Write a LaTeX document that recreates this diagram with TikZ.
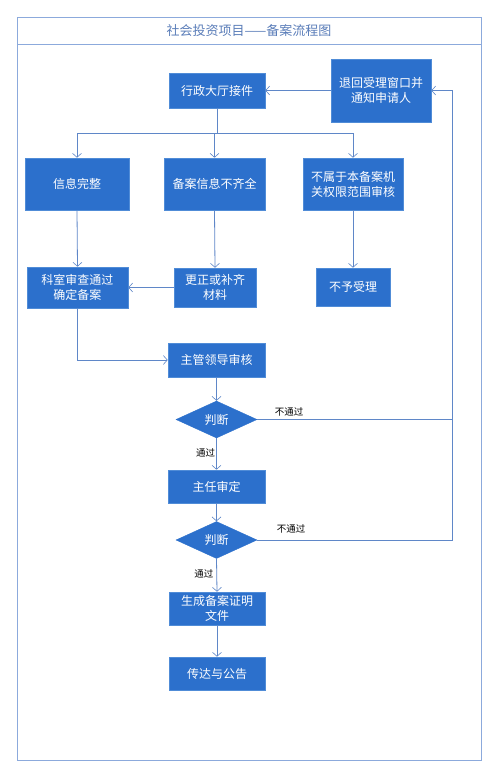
\documentclass[tikz,border=0pt]{standalone}
\usepackage{fontspec}
\setmainfont{Noto Sans CJK SC}
\usetikzlibrary{shapes.geometric,arrows.meta}
\definecolor{boxblue}{RGB}{44,112,204}
\definecolor{boxedge}{RGB}{80,140,215}
\definecolor{linkblue}{RGB}{95,135,200}
\definecolor{framecol}{RGB}{140,170,220}
\definecolor{titlecol}{RGB}{90,125,185}
\begin{document}
\begin{tikzpicture}[x=1pt,y=-1pt,
  box/.style={rectangle,fill=boxblue,draw=boxedge,line width=0.6pt,text=white,inner sep=0pt,align=center,font=\fontsize{12}{15}\selectfont},
  judge/.style={diamond,fill=boxblue,draw=boxblue,text=white,inner sep=0pt,minimum width=81pt,minimum height=37pt,font=\fontsize{12}{15}\selectfont},
  link/.style={draw=linkblue,line width=0.8pt},
  arr/.style={link,-{Straight Barb[length=4pt,width=9pt,line width=0.6pt]}},
  lbl/.style={font=\fontsize{9.5}{11}\selectfont,text=black,inner sep=0pt},
  frame/.style={draw=framecol,line width=0.8pt}]
\useasboundingbox (0,0) rectangle (497,777);
\fill[white] (0,0) rectangle (497,777);
\draw[frame] (17,17) rectangle (481,760);
\draw[frame] (17,44) -- (481,44);
\node[text=titlecol,font=\fontsize{13}{15}\selectfont] (title) at (249,31) {社会投资项目——备案流程图};

\node[box,minimum width=96pt,minimum height=35pt] (xz) at (217,90.5) {行政大厅接件};
\node[box,minimum width=100pt,minimum height=63pt] (th) at (381,90.5) {退回受理窗口并\\通知申请人};
\node[box,minimum width=104pt,minimum height=52pt] (wz) at (77,184) {信息完整};
\node[box,minimum width=101pt,minimum height=52pt] (bq) at (214.5,184) {备案信息不齐全};
\node[box,minimum width=100pt,minimum height=52pt] (bs) at (353,184) {不属于本备案机\\关权限范围审核};
\node[box,minimum width=101pt,minimum height=41pt] (ks) at (77.5,287.5) {科室审查通过\\确定备案};
\node[box,minimum width=82pt,minimum height=39pt] (gz) at (215,287.5) {更正或补齐\\材料};
\node[box,minimum width=74pt,minimum height=38pt] (by) at (353,287) {不予受理};
\node[box,minimum width=97pt,minimum height=34pt] (zg) at (216.5,360) {主管领导审核};
\node[judge] (d1) at (216.5,419.5) {判断};
\node[box,minimum width=97pt,minimum height=33pt] (zr) at (216.5,486.5) {主任审定};
\node[judge] (d2) at (216.5,540) {判断};
\node[box,minimum width=96pt,minimum height=33pt] (sc) at (217,608.5) {生成备案证明\\文件};
\node[box,minimum width=96pt,minimum height=33pt] (cd) at (217,673.5) {传达与公告};

\coordinate (split) at (217,133);
\coordinate (r1) at (452,419.5);
\coordinate (r2) at (452,540);
\coordinate (rtop) at (452,90.5);

\draw[link] (xz.south) -- (split);
\draw[link] (wz.north |- split) -- (bs.north |- split);
\draw[arr] (wz.north |- split) -- (wz.north);
\draw[arr] (bq.north |- split) -- (bq.north);
\draw[arr] (bs.north |- split) -- (bs.north);
\draw[arr] (wz.south) -- (ks.north);
\draw[arr] (bq.south) -- (gz.north);
\draw[arr] (bs.south) -- (by.north);
\draw[arr] (gz.west) -- (ks.east |- gz.west);
\draw[arr] (ks.south) |- (zg.west);
\draw[arr] (zg.south) -- (d1.north);
\draw[arr] (d1.south) -- node[lbl,left=1pt,pos=0.45] (pass1) {通过} (zr.north);
\draw[arr] (zr.south) -- (d2.north);
\draw[arr] (d2.south) -- node[lbl,left=3pt,pos=0.45] (pass2) {通过} (sc.north);
\draw[arr] (sc.south) -- (cd.north);
\draw[link] (d1.east) -- (r1);
\draw[arr] (d2.east) -- (r2) -- (rtop) -- (th.east);
\draw[arr] (th.west) -- (xz.east);
\node[lbl] (np1) at (289,412) {不通过};
\node[lbl] (np2) at (291,529) {不通过};
\end{tikzpicture}
\end{document}
